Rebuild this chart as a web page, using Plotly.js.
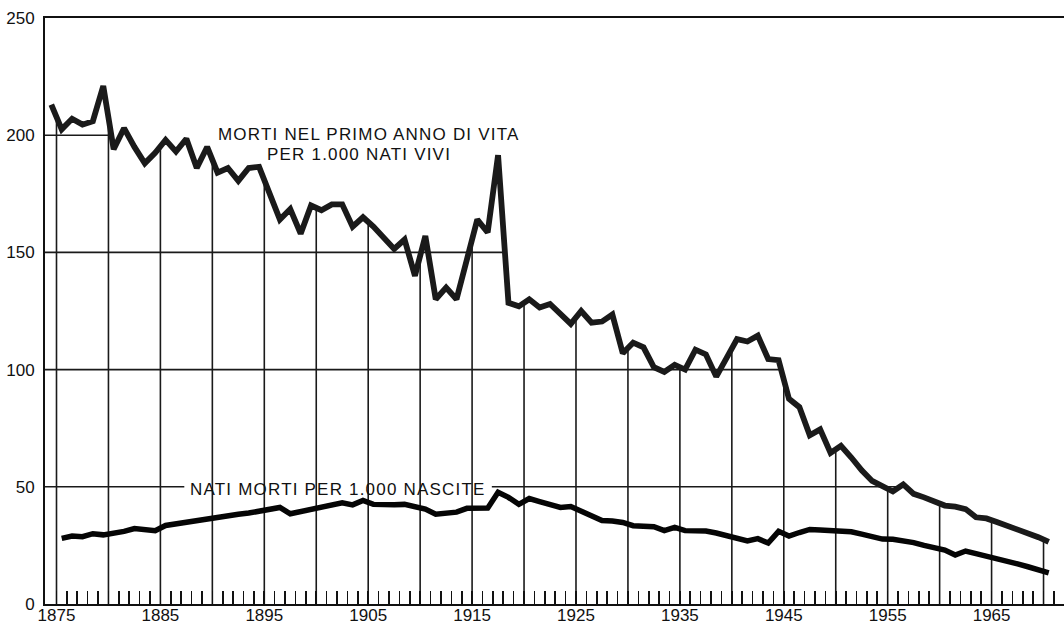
<!DOCTYPE html>
<html><head><meta charset="utf-8">
<script src="https://cdn.plot.ly/plotly-3.0.1.min.js"></script>
<style>
html,body{margin:0;padding:0;background:#fff;}
#chart{width:1064px;height:626px;}
.annotation-text{letter-spacing:1.2px;}
</style></head><body>
<div id="chart"></div>
<script>
// Morti nel primo anno di vita per 1.000 nati vivi (1875-1971)
const infantStart = 1875;
const infantMortality = [
  213, 202.5, 207, 204.5, 206, 221, 194, 203, 195, 188,
  192.5, 198, 193, 198.5, 186, 195, 184, 186, 180.5, 186,
  186.5, 176, 164, 168.5, 158, 170, 168, 170.5, 170.5, 161,
  165, 161, 156, 151.5, 155.5, 140, 157, 130, 135, 130,
  147, 164, 158.5, 191.5, 128.5, 127, 130, 126.5, 128, 124,
  119.5, 125, 120, 120.5, 123.5, 107, 111.5, 109.5, 101, 99,
  102, 100, 108.5, 106.5, 97, 105, 113, 112, 114.5, 104.5,
  104, 87.5, 84, 72, 74.5, 64.5, 67.5, 62.5, 57, 52.5,
  50, 48, 51, 47, 45.5, 43.5, 42, 41.5, 40.5, 37,
  36.5, 35, 33.5, 31.5, 30, 28.5, 26.5
];
// Nati morti per 1.000 nascite (1876-1971)
const stillStart = 1876;
const stillbirths = [
  28, 29, 28.7, 30, 29.5, 30.2, 31, 32.2, 32, 31.3,
  33.5, 34.2, 35.2, 35.8, 36.3, 37, 37.7, 38.3, 38.8, 39.5,
  40, 41.2, 38.5, 39.5, 40.7, 41.5, 42.5, 43.2, 42.3, 44.2,
  42.5, 42.3, 42.3, 42.5, 41.3, 40.5, 38.3, 38.6, 39.2, 40.8,
  40.8, 40.9, 47.7, 45.5, 42.5, 45, 43.7, 42.3, 41.2, 41.6,
  39.5, 37.3, 35.6, 35.4, 34.8, 33.4, 33.2, 33, 31.3, 32.7,
  31.3, 31.2, 31.1, 30.3, 29, 27.7, 26.9, 27.9, 26, 31,
  29, 30.5, 31.8, 31.6, 31.4, 31.3, 30.8, 29.8, 28.6, 27.7,
  27.6, 27.1, 26.2, 25, 24, 23, 20.9, 22.6, 21.5, 20.5,
  19.6, 18.4, 17.1, 15.9, 14.7, 13.3
];
const tickYears = [1875, 1885, 1895, 1905, 1915, 1925, 1935, 1945, 1955, 1965];
const tickLabels = ['1875', '1885', '1895', '1905', '1915', '1925', '1935', '1945', '1955', '1965'];
const yTickVals = [0, 50, 100, 150, 200, 250];
const yTickLabels = ['0', '50', '100', '150', '200', '250'];
const dropYears = [1875, 1880, 1885, 1890, 1895, 1900, 1905, 1910, 1915, 1920, 1925, 1930, 1935, 1940, 1945, 1950, 1955, 1960, 1965, 1970];
const labelInfant1 = 'MORTI NEL PRIMO ANNO DI VITA';
const labelInfant2 = 'PER 1.000 NATI VIVI';
const labelStill = 'NATI MORTI PER 1.000 NASCITE';

// each annual value is centred in its year interval (ticks mark year boundaries)
const infantX = infantMortality.map((_, i) => infantStart + i - 0.5);
const stillX = stillbirths.map((_, i) => stillStart + i - 0.5);

const X0 = 1873.893, X1 = 1971.97;

// a small tick at every year boundary, a label every ten years
const yearTickVals = [], yearTickText = [];
for (let y = 1875; y <= 1971; y++) {
  yearTickVals.push(y);
  const k = tickYears.indexOf(y);
  yearTickText.push(k >= 0 ? tickLabels[k] : '');
}

function valueAt(xs, ys, x) {
  if (x <= xs[0]) return ys[0];
  for (let i = 1; i < xs.length; i++) {
    if (x <= xs[i]) {
      const t = (x - xs[i - 1]) / (xs[i] - xs[i - 1]);
      return ys[i - 1] + t * (ys[i] - ys[i - 1]);
    }
  }
  return ys[ys.length - 1];
}
function crossings(xs, ys, level) {
  const out = [];
  for (let i = 1; i < xs.length; i++) {
    const a = ys[i - 1] - level, b = ys[i] - level;
    if (a === 0) out.push(xs[i - 1]);
    else if (a * b < 0) out.push(xs[i - 1] + (xs[i] - xs[i - 1]) * a / (a - b));
  }
  return out;
}

// vertical drop lines every 5 years up to the infant-mortality curve
const dropX = [], dropY = [];
dropYears.forEach(y => { dropX.push(y, y, null); dropY.push(0, valueAt(infantX, infantMortality, y), null); });

// horizontal reference lines, running from the axis to where the curve meets them
const c200 = crossings(infantX, infantMortality, 200);
const c150 = crossings(infantX, infantMortality, 150);
const c100 = crossings(infantX, infantMortality, 100);
const c50 = crossings(infantX, infantMortality, 50);
const stillLabelX = 1902.1, stillLabelHalf = 14.8;
const hX = [X0, c200[0], null, X0, c150[c150.length - 1], null, X0, c100[c100.length - 1], null,
            X0, stillLabelX - stillLabelHalf, null, stillLabelX + stillLabelHalf, c50[c50.length - 1], null];
const hY = [200, 200, null, 150, 150, null, 100, 100, null, 50, 50, null, 50, 50, null];

const FONT = 'Liberation Sans, Arial, Helvetica, sans-serif';
const INK = '#111';

const traces = [
  { x: dropX, y: dropY, mode: 'lines', line: { color: '#1a1a1a', width: 1.6 }, hoverinfo: 'skip', showlegend: false },
  { x: hX, y: hY, mode: 'lines', line: { color: '#1a1a1a', width: 1.6 }, hoverinfo: 'skip', showlegend: false },
  { x: stillX, y: stillbirths, mode: 'lines', line: { color: '#050505', width: 5.5 }, name: labelStill, showlegend: false },
  { x: infantX, y: infantMortality, mode: 'lines', line: { color: '#1a1a1a', width: 5.8 }, name: labelInfant1, showlegend: false }
];

const layout = {
  width: 1064, height: 626,
  margin: { l: 45, r: 0, t: 18, b: 22, pad: 0 },
  paper_bgcolor: '#ffffff', plot_bgcolor: '#ffffff',
  font: { family: FONT, size: 17, color: INK },
  showlegend: false,
  xaxis: {
    range: [X0, X1], showgrid: false, zeroline: false,
    showline: true, mirror: true, linecolor: INK, linewidth: 2,
    tickmode: 'array', tickvals: yearTickVals, ticktext: yearTickText,
    ticks: 'inside', ticklen: 13, tickwidth: 1.6, tickcolor: INK,
    ticklabelstandoff: -5,
    tickfont: { family: FONT, size: 17, color: INK }
  },
  yaxis: {
    range: [0, 250], showgrid: false, zeroline: false,
    showline: true, linecolor: INK, linewidth: 2,
    tickmode: 'array', tickvals: yTickVals, ticktext: yTickLabels, ticks: '',
    ticklabelstandoff: 5,
    tickfont: { family: FONT, size: 17, color: INK }
  },
  annotations: [
    { x: 1905.1, y: 200.1, xref: 'x', yref: 'y', text: labelInfant1, showarrow: false, xanchor: 'center', yanchor: 'middle', font: { family: FONT, size: 17, color: INK } },
    { x: 1904.1, y: 191.6, xref: 'x', yref: 'y', text: labelInfant2, showarrow: false, xanchor: 'center', yanchor: 'middle', font: { family: FONT, size: 17, color: INK } },
    { x: stillLabelX, y: 48.7, xref: 'x', yref: 'y', text: labelStill, showarrow: false, xanchor: 'center', yanchor: 'middle', font: { family: FONT, size: 17, color: INK } }
  ]
};

Plotly.newPlot('chart', traces, layout, { staticPlot: true, displayModeBar: false });
</script>
</body></html>
